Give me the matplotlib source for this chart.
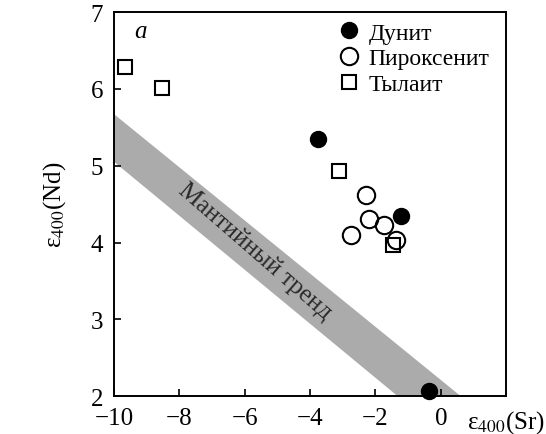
import numpy as np
import matplotlib
matplotlib.use('Agg')
import matplotlib.pyplot as plt

plt.rcParams['font.family'] = ['Liberation Serif', 'DejaVu Serif']
plt.rcParams['mathtext.fontset'] = 'stix'

# данные
dunite_sr = [-3.77, -1.23, -0.37]
dunite_nd = [5.35, 4.34, 2.07]
pyrox_sr = [-2.30, -2.21, -1.75, -2.76, -1.38]
pyrox_nd = [4.62, 4.30, 4.23, 4.10, 4.03]
tyl_sr = [-9.66, -8.53, -3.13, -1.47]
tyl_nd = [6.28, 6.01, 4.93, 3.97]

# мантийный тренд (полоса)
band_sr = [-10, 0.61, -1.32, -10]
band_nd = [5.67, 2.0, 2.0, 5.05]

fig = plt.figure(figsize=(5.46, 4.35), dpi=100)
ax = fig.add_axes([0.209, 0.087, 0.718, 0.883])

ax.fill(band_sr, band_nd, color='#ababab', lw=0, zorder=1)
ax.text(-5.7, 3.9, 'Мантийный тренд', rotation=-41, fontsize=18,
        ha='center', va='center', color='#2a2a2a', zorder=2)

ax.plot(dunite_sr, dunite_nd, 'o', ms=11.5, mfc='black', mec='black',
        label='Дунит', zorder=4, clip_on=False)
ax.plot(pyrox_sr, pyrox_nd, 'o', ms=12.5, mfc='none', mec='black', mew=1.5,
        label='Пироксенит', zorder=3)
ax.plot(tyl_sr, tyl_nd, 's', ms=10.5, mfc='none', mec='black', mew=1.5,
        label='Тылаит', zorder=3)

ax.set_xlim(-10, 2)
ax.set_ylim(2, 7)
ax.set_xticks([-10, -8, -6, -4, -2, 0])
ax.set_xticklabels(['−10', '−8', '−6', '−4', '−2', '0'])
ax.set_yticks([2, 3, 4, 5, 6, 7])
ax.tick_params(direction='in', length=5, width=1.2, labelsize=18, pad=8)
ax.tick_params(axis='y', pad=8)
for s in ax.spines.values():
    s.set_linewidth(1.4)

ax.set_ylabel('ε$_{400}$(Nd)', fontsize=18, labelpad=16)
ax.text(1.0, -0.03, 'ε$_{400}$(Sr)', transform=ax.transAxes,
        ha='center', va='top', fontsize=18)
ax.text(-9.2, 6.75, 'a', style='italic', fontsize=18, ha='center', va='center')

ax.legend(loc='upper right', bbox_to_anchor=(1.0, 1.017), frameon=False,
          fontsize=17, handletextpad=0.35, labelspacing=0.18,
          handlelength=1.0, borderaxespad=0.3)

fig.savefig('out.png', dpi=100)
